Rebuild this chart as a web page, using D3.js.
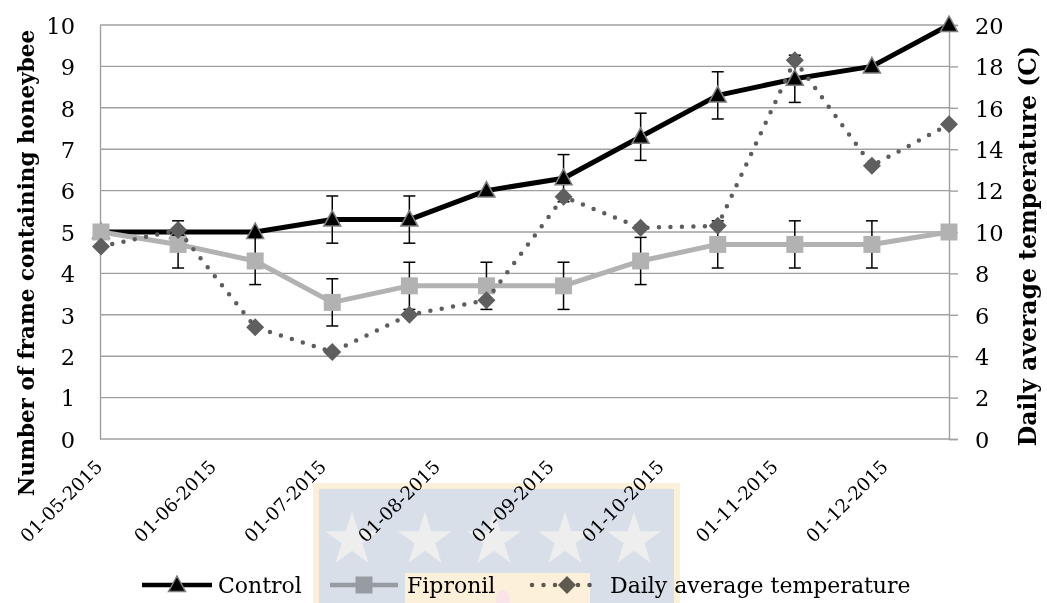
<!DOCTYPE html>
<html>
<head>
<meta charset="utf-8">
<script src="https://cdn.jsdelivr.net/npm/d3@7"></script>
<style>
	body { margin: 0; background: #fff; }
	svg { display: block; }
	text { font-family: "DejaVu Serif", serif; fill: #000; }
</style>
</head>
<body>
<div id="chart"></div>
<script>
// sample dates (every 3 weeks)
var dates = ['2015-05-01', '2015-05-22', '2015-06-12', '2015-07-03', '2015-07-24', '2015-08-14',
	'2015-09-04', '2015-09-25', '2015-10-16', '2015-11-06', '2015-11-27', '2015-12-18'];
var control = [5, 5, 5, 5.3, 5.3, 6, 6.3, 7.3, 8.3, 8.7, 9, 10];
var control_err = [0, 0, 0, 0.57, 0.57, 0, 0.57, 0.57, 0.57, 0.57, 0, 0];
var fipronil = [5, 4.7, 4.3, 3.3, 3.7, 3.7, 3.7, 4.3, 4.7, 4.7, 4.7, 5];
var fipronil_err = [0, 0.57, 0.57, 0.57, 0.57, 0.57, 0.57, 0.57, 0.57, 0.57, 0.57, 0];
var temperature = [9.3, 10.1, 5.4, 4.2, 6.0, 6.7, 11.7, 10.2, 10.3, 18.3, 13.2, 15.2];

var month_ticks = ['2015-05-01', '2015-06-01', '2015-07-01', '2015-08-01',
	'2015-09-01', '2015-10-01', '2015-11-01', '2015-12-01'];
var left_ticks = [0, 1, 2, 3, 4, 5, 6, 7, 8, 9, 10];
var right_ticks = [0, 2, 4, 6, 8, 10, 12, 14, 16, 18, 20];
var series_names = ['Control', 'Fipronil', 'Daily average temperature'];

var width = 1047, height = 603;
var parse = d3.timeParse('%Y-%m-%d');

var svg = d3.select('#chart')
	.append('svg')
	.attr('width', width)
	.attr('height', height);

// Scales
var x_scale = d3.scaleTime()
	.domain([parse(dates[0]), parse(dates[dates.length - 1])])
	.range([101, 949]);
var y_left = d3.scaleLinear().domain([0, 10]).range([439, 25]);
var y_right = d3.scaleLinear().domain([0, 20]).range([439, 25]);

var grid_col = '#a0a0a0';

// Gridlines
svg.append('g')
	.selectAll('line')
	.data(left_ticks.slice(1))
	.enter()
	.append('line')
	.attr('x1', 100).attr('x2', 949)
	.attr('y1', function (d) { return y_left(d); })
	.attr('y2', function (d) { return y_left(d); })
	.attr('stroke', grid_col)
	.attr('stroke-width', 1.4);

// Left axis
var left_axis = svg.append('g')
	.attr('transform', 'translate(100,0)')
	.call(d3.axisLeft(y_left).tickValues(left_ticks).tickSize(0).tickPadding(25));
left_axis.select('.domain').attr('stroke', grid_col).attr('stroke-width', 1.4);
left_axis.selectAll('text')
	.style('font-family', '"DejaVu Serif", serif')
	.style('font-size', '22.5px')
	.attr('dy', '0.37em');

// Right axis
var right_axis = svg.append('g')
	.attr('transform', 'translate(949,0)')
	.call(d3.axisRight(y_right).tickValues(right_ticks).tickSize(9).tickPadding(17));
right_axis.select('.domain').attr('stroke', grid_col).attr('stroke-width', 1.4);
right_axis.selectAll('line').attr('stroke', grid_col).attr('stroke-width', 1.4);
right_axis.selectAll('text')
	.style('font-family', '"DejaVu Serif", serif')
	.style('font-size', '22.5px')
	.attr('dy', '0.37em');

// Bottom axis (date labels rotated)
var bottom_axis = svg.append('g')
	.attr('transform', 'translate(0,439)')
	.call(d3.axisBottom(x_scale)
		.tickValues(month_ticks.map(parse))
		.tickSize(0)
		.tickFormat(d3.timeFormat('%d-%m-%Y')));
bottom_axis.select('.domain').remove();
bottom_axis.selectAll('text')
	.style('font-family', '"DejaVu Serif", serif')
	.style('font-size', '18.5px')
	.style('text-anchor', 'end')
	.attr('x', 0).attr('y', 0).attr('dy', 0)
	.attr('transform', 'translate(2,29) rotate(-45)');
svg.append('line')
	.attr('x1', 100).attr('x2', 949)
	.attr('y1', 439).attr('y2', 439)
	.attr('stroke', grid_col)
	.attr('stroke-width', 1.4);

// Axis titles
svg.append('text')
	.attr('transform', 'translate(34,263) rotate(-90)')
	.attr('text-anchor', 'middle')
	.style('font-weight', 'bold')
	.style('font-size', '21.5px')
	.text('Number of frame containing honeybee');
svg.append('text')
	.attr('transform', 'translate(1036,246) rotate(-90)')
	.attr('text-anchor', 'middle')
	.style('font-weight', 'bold')
	.style('font-size', '23.5px')
	.text('Daily average temperature (C)');

// Marker shapes
var triangle = 'M0,-9L8.5,6.5L-8.5,6.5Z';
var square = 'M-8.5,-8.5H8.5V8.5H-8.5Z';
var diamond = 'M0,-9L9,0L0,9L-9,0Z';

var rows = dates.map(function (d, i) {
	return { date: parse(d), c: control[i], ce: control_err[i], f: fipronil[i], fe: fipronil_err[i], t: temperature[i] };
});

function draw_errors(key, err_key) {
	var g = svg.append('g').attr('stroke', '#000').attr('stroke-width', 1.5);
	rows.forEach(function (d) {
		if (!d[err_key]) return;
		var x = x_scale(d.date);
		var y1 = y_left(d[key] + d[err_key]);
		var y2 = y_left(d[key] - d[err_key]);
		g.append('line').attr('x1', x).attr('x2', x).attr('y1', y1).attr('y2', y2);
		g.append('line').attr('x1', x - 6).attr('x2', x + 6).attr('y1', y1).attr('y2', y1);
		g.append('line').attr('x1', x - 6).attr('x2', x + 6).attr('y1', y2).attr('y2', y2);
	});
}

// Control
draw_errors('c', 'ce');
svg.append('path')
	.datum(rows)
	.attr('fill', 'none')
	.attr('stroke', '#000')
	.attr('stroke-width', 5)
	.attr('stroke-linejoin', 'round')
	.attr('d', d3.line()
		.x(function (d) { return x_scale(d.date); })
		.y(function (d) { return y_left(d.c); }));
svg.append('g')
	.selectAll('path')
	.data(rows)
	.enter()
	.append('path')
	.attr('d', triangle)
	.attr('transform', function (d) { return 'translate(' + x_scale(d.date) + ',' + y_left(d.c) + ')'; })
	.attr('fill', '#000')
	.attr('stroke', '#7f7f7f')
	.attr('stroke-width', 1.5);

// Fipronil
draw_errors('f', 'fe');
svg.append('path')
	.datum(rows)
	.attr('fill', 'none')
	.attr('stroke', '#b2b2b2')
	.attr('stroke-width', 5)
	.attr('stroke-linejoin', 'round')
	.attr('d', d3.line()
		.x(function (d) { return x_scale(d.date); })
		.y(function (d) { return y_left(d.f); }));
svg.append('g')
	.selectAll('path')
	.data(rows)
	.enter()
	.append('path')
	.attr('d', square)
	.attr('transform', function (d) { return 'translate(' + x_scale(d.date) + ',' + y_left(d.f) + ')'; })
	.attr('fill', '#b2b2b2');

// Temperature (right axis)
svg.append('path')
	.datum(rows)
	.attr('fill', 'none')
	.attr('stroke', '#5d5d5d')
	.attr('stroke-width', 4.5)
	.attr('stroke-linecap', 'round')
	.attr('stroke-dasharray', '0 11.5')
	.attr('d', d3.line()
		.x(function (d) { return x_scale(d.date); })
		.y(function (d) { return y_right(d.t); }));
svg.append('g')
	.selectAll('path')
	.data(rows)
	.enter()
	.append('path')
	.attr('d', diamond)
	.attr('transform', function (d) { return 'translate(' + x_scale(d.date) + ',' + y_right(d.t) + ')'; })
	.attr('fill', '#5f5f5f');

// Legend
var legend_y = 585;
var lg = svg.append('g');
lg.append('line').attr('x1', 142).attr('x2', 212).attr('y1', legend_y).attr('y2', legend_y)
	.attr('stroke', '#000').attr('stroke-width', 4.5);
lg.append('path').attr('d', triangle).attr('transform', 'translate(177,' + legend_y + ')')
	.attr('fill', '#000').attr('stroke', '#7f7f7f').attr('stroke-width', 1.5);
lg.append('text').attr('x', 218).attr('y', legend_y).attr('dy', '0.35em')
	.style('font-size', '22px').text(series_names[0]);

lg.append('line').attr('x1', 330).attr('x2', 398).attr('y1', legend_y).attr('y2', legend_y)
	.attr('stroke', '#b2b2b2').attr('stroke-width', 4.5);
lg.append('path').attr('d', square).attr('transform', 'translate(364,' + legend_y + ')')
	.attr('fill', '#b2b2b2');
lg.append('text').attr('x', 407).attr('y', legend_y).attr('dy', '0.35em')
	.style('font-size', '22px').text(series_names[1]);

lg.append('line').attr('x1', 532).attr('x2', 598).attr('y1', legend_y).attr('y2', legend_y)
	.attr('stroke', '#5d5d5d').attr('stroke-width', 4.5)
	.attr('stroke-linecap', 'round').attr('stroke-dasharray', '0 11.5');
lg.append('path').attr('d', diamond).attr('transform', 'translate(567,' + legend_y + ')')
	.attr('fill', '#5f5f5f');
lg.append('text').attr('x', 610).attr('y', legend_y).attr('dy', '0.35em')
	.style('font-size', '22px').text(series_names[2]);

// Faint watermark over the lower middle
var wm = svg.append('g').style('mix-blend-mode', 'multiply');
wm.append('rect').attr('x', 313).attr('y', 483).attr('width', 367).attr('height', 120).attr('fill', '#fdf0da');
wm.append('rect').attr('x', 319).attr('y', 489).attr('width', 355).attr('height', 114).attr('fill', '#d8dfe9');
var star = d3.symbol().type(d3.symbolStar).size(900);
[352, 425, 494, 565, 634].forEach(function (sx) {
	wm.append('path').attr('d', star()).attr('transform', 'translate(' + sx + ',540)').attr('fill', '#eeeeee');
});
wm.append('rect').attr('x', 405).attr('y', 573).attr('width', 185).attr('height', 30).attr('fill', '#fdf0da');
wm.append('ellipse').attr('cx', 503).attr('cy', 600).attr('rx', 7).attr('ry', 10).attr('fill', '#fbe3ea');
</script>
</body>
</html>
